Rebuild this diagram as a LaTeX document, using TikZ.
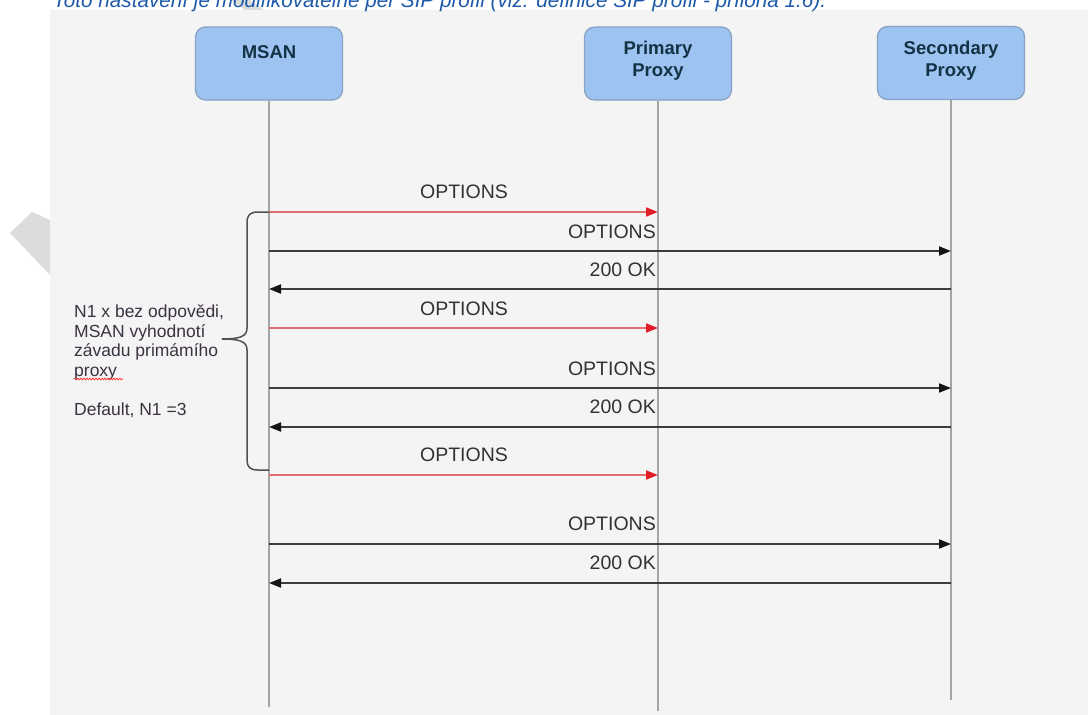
\documentclass[tikz,border=0pt]{standalone}
\usepackage{fontspec}
\setmainfont{Liberation Sans}
\usepackage{graphicx}
\usetikzlibrary{arrows.meta,decorations.pathmorphing}
\definecolor{panel}{RGB}{244,244,244}
\definecolor{boxfill}{RGB}{157,196,240}
\definecolor{boxdraw}{RGB}{135,160,195}
\definecolor{boxtext}{RGB}{20,50,70}
\definecolor{life}{RGB}{165,165,165}
\definecolor{msgblack}{RGB}{60,60,60}
\definecolor{tipblack}{RGB}{20,20,20}
\definecolor{msgred}{RGB}{225,110,110}
\definecolor{tipred}{RGB}{225,30,40}
\definecolor{labeltext}{RGB}{50,50,50}
\definecolor{notetext}{RGB}{60,50,65}
\definecolor{bluetext}{RGB}{30,90,170}
\definecolor{wm}{RGB}{220,220,220}
\begin{document}
\begin{tikzpicture}[x=1pt,y=-1pt,
  actor/.style={draw=boxdraw, line width=1.2pt, fill=boxfill, rounded corners=10pt, minimum width=147pt, minimum height=73pt, inner sep=0pt},
  actortext/.style={font=\fontsize{18.5}{22}\selectfont\bfseries, text=boxtext, align=center, anchor=north, inner sep=0pt},
  lifeline/.style={draw=life, line width=1.5pt},
  msg/.style={draw=msgblack, line width=1.8pt, -{Triangle[length=12pt,width=9pt,color=tipblack]}},
  redmsg/.style={draw=msgred, line width=1.8pt, -{Triangle[length=12pt,width=9pt,color=tipred]}},
  lbl/.style={font=\fontsize{19.5}{22}\selectfont, text=labeltext, inner sep=0pt},
  bracestyle/.style={draw=msgblack!90, line width=1.5pt},
]
\useasboundingbox (0,0) rectangle (1088,715);
\fill[white] (0,0) rectangle (1088,715);
% watermark pieces
\fill[wm] (50,220) -- (32,212) -- (10,233) -- (50,275) -- cycle;
\fill[wm] (231,0) -- (250,0) -- (264,10) -- (245,10) -- cycle;
% panel
\fill[panel] (50,10) rectangle (1088,715);
% cut caption (cut at the top edge, as in the reference)
\node[anchor=base west, inner sep=0pt, text=bluetext] (caption) at (53,7.5)
  {\resizebox{773pt}{!}{\itshape Toto nastavení je modifikovatelné per SIP profil (viz. definice SIP profil - příloha 1.6).}};

% actors
\node[actor] (msan) at (269,63.5) {};
\node[actor] (prim) at (658,63.5) {};
\node[actor] (sec) at (951,63) {};
\coordinate (msanend) at (269,707);
\coordinate (primend) at (658,711);
\coordinate (secend) at (951,700);
\draw[lifeline] (msan.south) -- (msanend);
\draw[lifeline] (prim.south) -- (primend);
\draw[lifeline] (sec.south) -- (secend);
\node[actortext] (msant) at (269,45) {MSAN};
\node[actortext] (primt) at (658,40.5) {Primary\\Proxy};
\node[actortext] (sect) at (951,40.5) {Secondary\\Proxy};

% message rows
\coordinate (y1) at (0,212);
\coordinate (y2) at (0,251);
\coordinate (y3) at (0,289);
\coordinate (y4) at (0,328);
\coordinate (y5) at (0,388);
\coordinate (y6) at (0,427);
\coordinate (y7) at (0,475);
\coordinate (y8) at (0,544);
\coordinate (y9) at (0,583);

\draw[redmsg] (msan |- y1) -- (prim |- y1);
\draw[msg] (msan |- y2) -- (sec |- y2);
\draw[msg] (sec |- y3) -- (msan |- y3);
\draw[redmsg] (msan |- y4) -- (prim |- y4);
\draw[msg] (msan |- y5) -- (sec |- y5);
\draw[msg] (sec |- y6) -- (msan |- y6);
\draw[redmsg] (msan |- y7) -- (prim |- y7);
\draw[msg] (msan |- y8) -- (sec |- y8);
\draw[msg] (sec |- y9) -- (msan |- y9);

\node[lbl] (l1) at (464,192) {OPTIONS};
\node[lbl, anchor=east] (l2) at (656,232) {OPTIONS};
\node[lbl, anchor=east] (l3) at (656,270) {200 OK};
\node[lbl] (l4) at (464,309) {OPTIONS};
\node[lbl, anchor=east] (l5) at (656,369) {OPTIONS};
\node[lbl, anchor=east] (l6) at (656,407) {200 OK};
\node[lbl] (l7) at (464,455) {OPTIONS};
\node[lbl, anchor=east] (l8) at (656,524) {OPTIONS};
\node[lbl, anchor=east] (l9) at (656,563) {200 OK};

% brace
\draw[bracestyle] (269,212) -- (258,212) .. controls (250,212) and (247,215) .. (247,223)
  -- (247,328) .. controls (247,336) and (241,339) .. (222,339)
  .. controls (241,339) and (247,342) .. (247,350)
  -- (247,460) .. controls (247,467) and (250,470) .. (258,470) -- (269,470);

% note
\node[anchor=north west, align=left, inner sep=0pt, text=notetext,
  font=\fontsize{17.5}{19.5}\selectfont] (note) at (74,305)
  {N1 x bez odpovědi,\\MSAN vyhodnotí\\závadu primámího\\proxy\\[19.5pt]Default, N1 =3};
\draw[red!80, line width=0.8pt, decorate, decoration={snake, amplitude=0.8pt, segment length=3pt}] (74,379) -- (123,379);
\end{tikzpicture}
\end{document}
